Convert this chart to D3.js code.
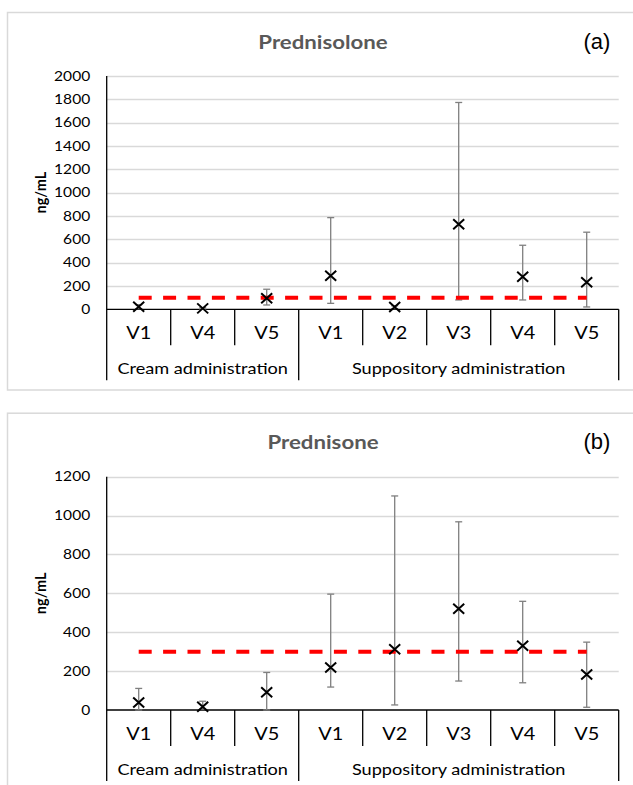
<!DOCTYPE html>
<html>
<head>
<meta charset="utf-8">
<script src="https://cdn.jsdelivr.net/npm/d3@7"></script>
<style>
  body { margin: 0; background: #fff; }
  svg { display: block; font-family: Lato, "Open Sans", sans-serif; }
</style>
</head>
<body>
<svg id="chart"></svg>
<script>
var W = 633, H = 785

// categories
var visits = ['V1', 'V4', 'V5', 'V1', 'V2', 'V3', 'V4', 'V5']
var groups = [
  { name: 'Cream administration', from: 0, to: 3 },
  { name: 'Suppository administration', from: 3, to: 8 }
]

// (a) prednisolone, ng/mL
var prednisoloneMean = [22, 8, 94, 288, 20, 730, 280, 231]
var prednisoloneLow = [5, 2, 37, 51, 5, 80, 80, 20]
var prednisoloneHigh = [40, 15, 172, 786, 30, 1773, 549, 661]
var prednisoloneTicks = [0, 200, 400, 600, 800, 1000, 1200, 1400, 1600, 1800, 2000]
var prednisoloneLimit = 100

// (b) prednisone, ng/mL
var prednisoneMean = [39, 17, 91, 219, 313, 521, 330, 183]
var prednisoneLow = [0, 5, 0, 118, 26, 149, 140, 14]
var prednisoneHigh = [111, 45, 193, 596, 1101, 968, 559, 349]
var prednisoneTicks = [0, 200, 400, 600, 800, 1000, 1200]
var prednisoneLimit = 300

// the source figure is a little stretched sideways
var sx = 1.17

var svg = d3.select('#chart').attr('width', W).attr('height', H)

function wide(sel, x, y) {
  sel.attr('transform', 'translate(' + x + ',' + y + ')scale(' + sx + ',1)')
}

function panel(top, bottom, title, tag, mean, low, high, ticks, limit) {
  var g = svg.append('g')
  var zeroY = top + 297.3,
    topY = top + 64,
    left = 106.7,
    right = 618.7

  // panel frame
  g.append('rect')
    .attr('x', 7.5).attr('y', top + 0.5)
    .attr('width', 660).attr('height', bottom - top)
    .attr('fill', 'none').attr('stroke', '#d9d9d9').attr('stroke-width', 1.5)

  var x = d3.scaleBand().domain(d3.range(visits.length)).range([left, right])
  var y = d3.scaleLinear().domain([0, d3.max(ticks)]).range([zeroY, topY])

  g.append('text')
    .call(wide, 323, top + 36.5)
    .attr('text-anchor', 'middle')
    .attr('font-size', 19).attr('font-weight', 'bold').attr('fill', '#595959')
    .text(title)

  g.append('text')
    .attr('x', 597).attr('y', top + 36.5)
    .attr('text-anchor', 'middle')
    .attr('font-family', '"Liberation Sans", Arial, sans-serif')
    .attr('font-size', 22).attr('fill', '#000')
    .text(tag)

  // gridlines
  g.selectAll('.grid')
    .data(ticks.filter(function(d) { return d > 0 }))
    .enter().append('line')
    .attr('x1', left).attr('x2', right)
    .attr('y1', function(d) { return Math.round(y(d)) + 0.5 })
    .attr('y2', function(d) { return Math.round(y(d)) + 0.5 })
    .attr('stroke', '#d9d9d9').attr('stroke-width', 1.3)

  // y axis
  var yAxis = d3.axisLeft(y).tickValues(ticks).tickFormat(d3.format('d')).tickSize(0).tickPadding(0)
  var ya = g.append('g').attr('transform', 'translate(' + left + ',0)').call(yAxis)
  ya.select('.domain').remove()
  ya.selectAll('text')
    .attr('x', 0)
    .attr('transform', 'translate(-16.5,0)scale(' + sx + ',1)')
    .attr('font-family', 'Lato, sans-serif')
    .attr('font-size', 13.3).attr('fill', '#000')

  g.append('text')
    .attr('transform', 'translate(46,' + (topY + zeroY) / 2 + ')rotate(-90)')
    .attr('text-anchor', 'middle')
    .attr('font-size', 14.5).attr('font-weight', 'bold').attr('fill', '#000')
    .text('ng/mL')

  // x axis: zero line, category row, group row
  g.append('line')
    .attr('x1', left).attr('x2', right)
    .attr('y1', zeroY).attr('y2', zeroY)
    .attr('stroke', '#000').attr('stroke-width', 1.3)

  var edges = d3.range(visits.length + 1).map(function(i) {
    return i < visits.length ? x(i) : x(i - 1) + x.bandwidth()
  })
  var outer = [0, 3, 8]
  g.selectAll('.sep')
    .data(edges)
    .enter().append('line')
    .attr('x1', function(d) { return d }).attr('x2', function(d) { return d })
    .attr('y1', function(d, i) { return i === 0 ? topY : zeroY })
    .attr('y2', function(d, i) { return zeroY + (outer.indexOf(i) >= 0 ? 71 : 36) })
    .attr('stroke', '#000').attr('stroke-width', 1.3)

  g.selectAll('.vis')
    .data(visits)
    .enter().append('text')
    .each(function(d, i) { d3.select(this).call(wide, x(i) + x.bandwidth() / 2, zeroY + 30) })
    .attr('text-anchor', 'middle')
    .attr('font-size', 17).attr('fill', '#000')
    .text(function(d) { return d })

  g.selectAll('.grp')
    .data(groups)
    .enter().append('text')
    .each(function(d) { d3.select(this).call(wide, (x(d.from) + edges[d.to]) / 2, zeroY + 64.5) })
    .attr('text-anchor', 'middle')
    .attr('font-size', 15.5).attr('fill', '#000')
    .text(function(d) { return d.name })

  // error bars
  var cx = function(i) { return x(i) + x.bandwidth() / 2 }
  var eb = g.selectAll('.eb').data(mean).enter().append('g')
  eb.append('line')
    .attr('x1', function(d, i) { return cx(i) }).attr('x2', function(d, i) { return cx(i) })
    .attr('y1', function(d, i) { return y(low[i]) }).attr('y2', function(d, i) { return y(high[i]) })
    .attr('stroke', '#7f7f7f').attr('stroke-width', 1.3)
  eb.append('line')
    .attr('x1', function(d, i) { return cx(i) - 3.5 }).attr('x2', function(d, i) { return cx(i) + 3.5 })
    .attr('y1', function(d, i) { return y(high[i]) }).attr('y2', function(d, i) { return y(high[i]) })
    .attr('stroke', '#7f7f7f').attr('stroke-width', 1.3)
  eb.append('line')
    .attr('x1', function(d, i) { return cx(i) - 3.5 }).attr('x2', function(d, i) { return cx(i) + 3.5 })
    .attr('y1', function(d, i) { return y(low[i]) }).attr('y2', function(d, i) { return y(low[i]) })
    .attr('stroke', '#7f7f7f').attr('stroke-width', 1.3)

  // limit line
  g.append('line')
    .attr('x1', cx(0)).attr('x2', cx(visits.length - 1))
    .attr('y1', y(limit)).attr('y2', y(limit))
    .attr('stroke', '#ff0000').attr('stroke-width', 4)
    .attr('stroke-dasharray', '13,11.4')

  // markers
  var s = 5.5, t = 5
  g.selectAll('.mk')
    .data(mean)
    .enter().append('path')
    .attr('d', function(d, i) {
      var px = cx(i), py = y(d)
      return 'M' + (px - s) + ',' + (py - t) + 'L' + (px + s) + ',' + (py + t) +
        'M' + (px - s) + ',' + (py + t) + 'L' + (px + s) + ',' + (py - t)
    })
    .attr('stroke', '#000').attr('stroke-width', 2).attr('fill', 'none')
}

panel(12, 389.5, 'Prednisolone', '(a)', prednisoloneMean, prednisoloneLow, prednisoloneHigh, prednisoloneTicks, prednisoloneLimit)
panel(412.7, 800, 'Prednisone', '(b)', prednisoneMean, prednisoneLow, prednisoneHigh, prednisoneTicks, prednisoneLimit)
</script>
</body>
</html>
